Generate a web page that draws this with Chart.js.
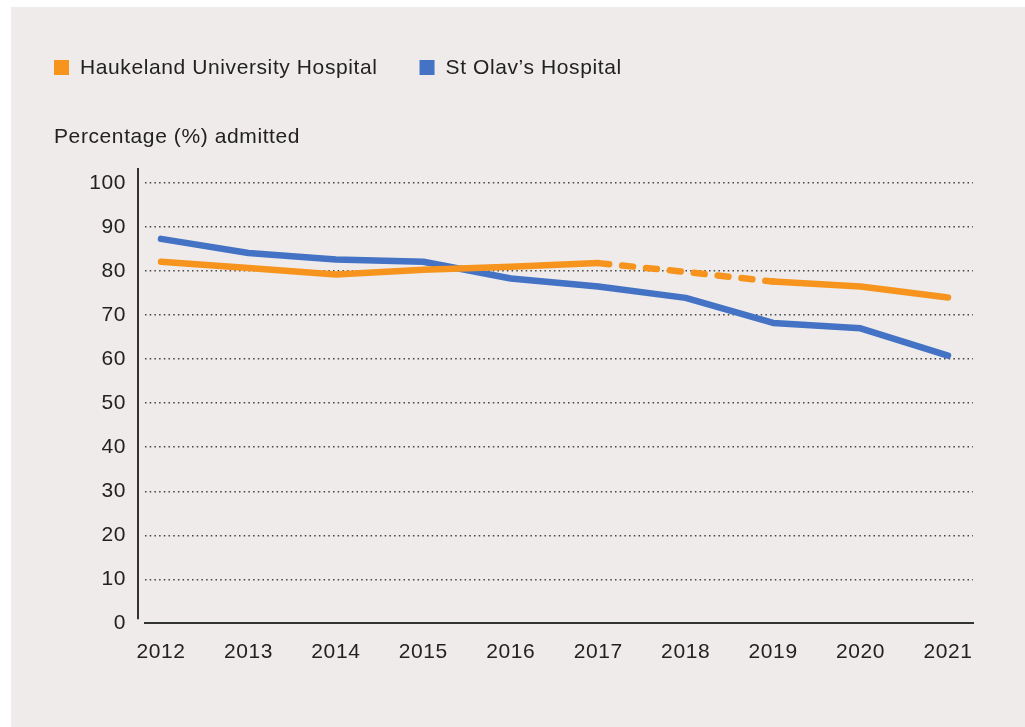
<!DOCTYPE html>
<html>
<head>
<meta charset="utf-8">
<script src="https://cdn.jsdelivr.net/npm/chart.js@4.4.1/dist/chart.umd.min.js"></script>
<style>
  html, body { margin: 0; padding: 0; background: #ffffff; }
  #wrap { position: absolute; left: 11px; top: 7px; width: 1014px; height: 720px; background: #eeebea; }
</style>
</head>
<body>
<div id="wrap"><canvas id="admittedChart"></canvas></div>
<script>
// values
const years = [2012, 2013, 2014, 2015, 2016, 2017, 2018, 2019, 2020, 2021];
const haukeland = [82.1, 80.7, 79.2, 80.3, 81.0, 81.8, 79.8, 77.6, 76.5, 74.0];
const stOlav = [87.3, 84.1, 82.6, 82.1, 78.3, 76.5, 73.9, 68.2, 67.0, 60.8];
const yTicks = [0, 10, 20, 30, 40, 50, 60, 70, 80, 90, 100];
const seriesNames = ['Haukeland University Hospital', 'St Olav’s Hospital'];
const seriesColors = ['#f7941d', '#4472c4'];
const dashedYears = [2017, 2019]; // Haukeland line is dashed between these years

Chart.defaults.font.family = '"Liberation Sans", Arial, sans-serif';
Chart.defaults.font.size = 21;
Chart.defaults.color = '#222';

// the reference font is set a little loose
const spacing = {
    id: 'spacing',
    beforeUpdate(chart) { chart.ctx.letterSpacing = '0.6px'; },
    beforeDraw(chart) { chart.ctx.letterSpacing = '0.6px'; }
};

// y axis line sits a bit left of the grid and stops short of the x axis
const yAxisLine = {
    id: 'yAxisLine',
    afterDraw(chart) {
        const { ctx, chartArea: a } = chart;
        ctx.save();
        ctx.strokeStyle = '#333';
        ctx.lineWidth = 2;
        ctx.beginPath();
        ctx.moveTo(a.left - 7, a.top);
        ctx.lineTo(a.left - 7, a.bottom - 4);
        ctx.stroke();
        ctx.restore();
    }
};

// square legend in one row, top left
const squareLegend = {
    id: 'squareLegend',
    afterDraw(chart) {
        const ctx = chart.ctx;
        ctx.save();
        ctx.font = '21px "Liberation Sans", Arial, sans-serif';
        ctx.textBaseline = 'middle';
        let x = 43;
        chart.data.datasets.forEach(ds => {
            ctx.fillStyle = ds.borderColor;
            ctx.fillRect(x, 53, 15, 15);
            ctx.fillStyle = '#222';
            ctx.fillText(ds.label, x + 26, 61);
            x += 26 + ctx.measureText(ds.label).width + 42;
        });
        ctx.restore();
    }
};

const ctx = document.getElementById('admittedChart').getContext('2d');
const chart = new Chart(ctx, {
    type: 'line',
    data: {
        datasets: [
            {
                label: seriesNames[0],
                data: years.map((yr, i) => ({ x: yr, y: haukeland[i] })),
                borderColor: seriesColors[0],
                backgroundColor: seriesColors[0],
                borderWidth: 6.5,
                borderCapStyle: 'round',
                borderJoinStyle: 'round',
                pointRadius: 0,
                tension: 0,
                segment: {
                    borderDash: c => (years[c.p0DataIndex] >= dashedYears[0] && years[c.p1DataIndex] <= dashedYears[1]) ? [11, 13] : undefined
                }
            },
            {
                label: seriesNames[1],
                data: years.map((yr, i) => ({ x: yr, y: stOlav[i] })),
                borderColor: seriesColors[1],
                backgroundColor: seriesColors[1],
                borderWidth: 6.5,
                borderCapStyle: 'round',
                borderJoinStyle: 'round',
                pointRadius: 0,
                tension: 0
            }
        ]
    },
    options: {
        responsive: true,
        maintainAspectRatio: false,
        animation: false,
        layout: { padding: { left: 43, right: 52, top: 0, bottom: 0 } },
        plugins: {
            legend: { display: false },
            tooltip: { enabled: false },
            title: {
                display: true,
                text: 'Percentage (%) admitted',
                align: 'start',
                color: '#222',
                font: { size: 21, weight: 'normal' },
                padding: { top: 117.4, bottom: 18.4 }
            }
        },
        scales: {
            x: {
                type: 'linear',
                min: 2011.817,
                max: 2021.286,
                afterBuildTicks: s => { s.ticks = years.map(v => ({ value: v })); },
                afterFit: s => { s.height = 103.7; },
                grid: { display: false },
                border: { display: true, color: '#333', width: 2 },
                ticks: {
                    autoSkip: false,
                    maxRotation: 0,
                    padding: 8,
                    color: '#222',
                    callback: v => String(v)
                }
            },
            y: {
                min: 0,
                max: 103.4,
                afterBuildTicks: s => { s.ticks = yTicks.map(v => ({ value: v })); },
                afterFit: s => { s.width = 91; },
                grid: {
                    drawTicks: false,
                    lineWidth: 1.4,
                    color: c => (c.tick && c.tick.value === 0) ? 'rgba(0,0,0,0)' : '#444'
                },
                border: { display: false, dash: [1.5, 3.2] },
                ticks: { padding: 19, color: '#222' }
            }
        }
    },
    plugins: [spacing, yAxisLine, squareLegend]
});
</script>
</body>
</html>
